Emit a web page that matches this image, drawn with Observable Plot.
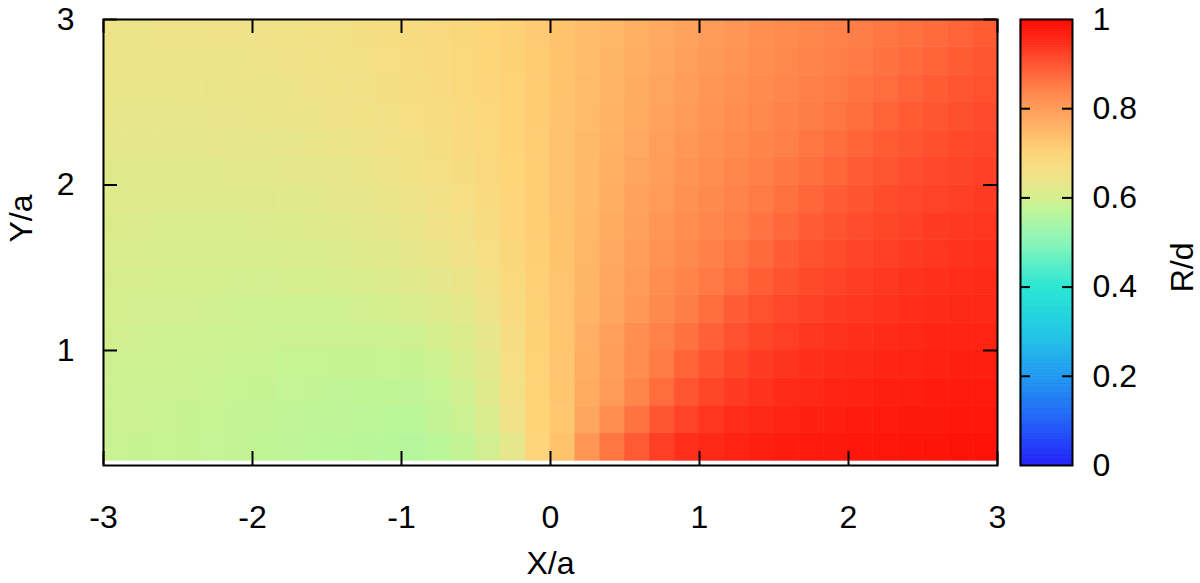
<!DOCTYPE html>
<html><head><meta charset="utf-8">
<script src="https://cdn.jsdelivr.net/npm/d3@7"></script>
<script src="https://cdn.jsdelivr.net/npm/@observablehq/plot@0.6"></script>
<style>
html,body{margin:0;padding:0;background:#fff;}
#wrap{position:relative;width:1200px;height:583px;overflow:hidden;}
#main,#bar{position:absolute;top:0;}
#main{left:0}
#bar{left:1000px}
svg{overflow:visible}
</style></head><body><div id="wrap"><div id="main"></div><div id="bar"></div></div>
<script>
// cell centres (cells are 1/6 wide and 1/6 tall)
const xCenters = [-2.917,-2.75,-2.583,-2.417,-2.25,-2.083,-1.917,-1.75,-1.583,-1.417,-1.25,-1.083,-0.917,-0.75,-0.583,-0.417,-0.25,-0.083,
                  0.083,0.25,0.417,0.583,0.75,0.917,1.083,1.25,1.417,1.583,1.75,1.917,2.083,2.25,2.417,2.583,2.75,2.917];
const yCenters = [0.417,0.583,0.75,0.917,1.083,1.25,1.417,1.583,1.75,1.917,2.083,2.25,2.417,2.583,2.75,2.917];

// R/d values, one array per row (bottom to top), left to right
const row00 = [0.585,0.584,0.583,0.581,0.579,0.577,0.575,0.573,0.571,0.569,0.566,0.563,0.561,0.568,0.578,0.598,0.628,0.695, 0.730,0.810,0.857,0.892,0.925,0.944,0.955,0.961,0.966,0.970,0.973,0.976,0.978,0.980,0.982,0.983,0.985,0.986];
const row01 = [0.588,0.587,0.586,0.584,0.582,0.580,0.578,0.576,0.574,0.572,0.570,0.568,0.568,0.577,0.589,0.610,0.650,0.700, 0.724,0.782,0.820,0.860,0.898,0.920,0.937,0.948,0.955,0.961,0.965,0.968,0.971,0.973,0.975,0.976,0.978,0.979];
const row02 = [0.590,0.589,0.588,0.587,0.585,0.583,0.581,0.579,0.577,0.576,0.575,0.575,0.576,0.582,0.595,0.617,0.660,0.702, 0.725,0.772,0.802,0.835,0.870,0.897,0.916,0.930,0.941,0.949,0.955,0.959,0.963,0.966,0.968,0.970,0.972,0.973];
const row03 = [0.593,0.592,0.591,0.590,0.588,0.586,0.585,0.583,0.582,0.581,0.581,0.582,0.584,0.590,0.603,0.625,0.665,0.703, 0.726,0.768,0.798,0.824,0.850,0.880,0.901,0.916,0.928,0.938,0.945,0.950,0.954,0.957,0.960,0.963,0.966,0.967];
const row04 = [0.596,0.595,0.594,0.593,0.591,0.590,0.589,0.588,0.587,0.587,0.588,0.590,0.594,0.601,0.613,0.634,0.670,0.705, 0.727,0.764,0.795,0.820,0.840,0.862,0.885,0.903,0.916,0.926,0.934,0.940,0.945,0.949,0.953,0.957,0.959,0.961];
const row05 = [0.600,0.599,0.598,0.597,0.595,0.594,0.593,0.593,0.593,0.594,0.597,0.601,0.607,0.615,0.627,0.646,0.677,0.706, 0.728,0.757,0.784,0.807,0.828,0.847,0.867,0.889,0.904,0.914,0.923,0.930,0.936,0.941,0.946,0.949,0.952,0.955];
const row06 = [0.604,0.603,0.602,0.601,0.600,0.599,0.599,0.600,0.601,0.603,0.607,0.612,0.619,0.628,0.640,0.657,0.683,0.707, 0.729,0.755,0.781,0.802,0.820,0.836,0.852,0.869,0.888,0.902,0.912,0.920,0.927,0.933,0.939,0.943,0.947,0.950];
const row07 = [0.608,0.607,0.606,0.605,0.605,0.605,0.606,0.607,0.609,0.612,0.617,0.623,0.631,0.640,0.651,0.666,0.688,0.709, 0.730,0.753,0.776,0.798,0.814,0.828,0.842,0.857,0.873,0.889,0.901,0.910,0.918,0.925,0.930,0.935,0.940,0.944];
const row08 = [0.613,0.612,0.611,0.611,0.611,0.611,0.612,0.614,0.617,0.620,0.625,0.631,0.639,0.648,0.659,0.672,0.692,0.710, 0.731,0.751,0.772,0.792,0.809,0.822,0.834,0.846,0.860,0.875,0.889,0.900,0.909,0.916,0.922,0.928,0.932,0.937];
const row09 = [0.618,0.617,0.617,0.617,0.617,0.618,0.619,0.621,0.624,0.628,0.633,0.639,0.647,0.656,0.666,0.678,0.695,0.711, 0.732,0.749,0.768,0.787,0.803,0.816,0.828,0.839,0.851,0.863,0.877,0.889,0.900,0.908,0.915,0.920,0.925,0.930];
const row10 = [0.624,0.623,0.623,0.623,0.624,0.625,0.626,0.628,0.631,0.635,0.640,0.646,0.654,0.662,0.671,0.682,0.697,0.712, 0.732,0.748,0.765,0.782,0.798,0.811,0.823,0.833,0.842,0.854,0.865,0.878,0.889,0.899,0.907,0.913,0.918,0.924];
const row11 = [0.629,0.629,0.629,0.629,0.630,0.631,0.633,0.635,0.638,0.642,0.647,0.653,0.660,0.668,0.676,0.686,0.699,0.713, 0.732,0.746,0.762,0.778,0.794,0.807,0.817,0.827,0.836,0.845,0.857,0.867,0.879,0.890,0.898,0.906,0.912,0.917];
const row12 = [0.634,0.634,0.634,0.635,0.636,0.637,0.639,0.641,0.644,0.648,0.653,0.659,0.666,0.673,0.680,0.689,0.701,0.714, 0.732,0.745,0.759,0.774,0.789,0.802,0.813,0.822,0.831,0.840,0.849,0.858,0.869,0.880,0.890,0.898,0.905,0.911];
const row13 = [0.638,0.638,0.638,0.639,0.640,0.641,0.643,0.645,0.648,0.652,0.657,0.663,0.669,0.676,0.683,0.692,0.703,0.715, 0.731,0.744,0.757,0.771,0.785,0.798,0.809,0.817,0.826,0.834,0.842,0.851,0.860,0.870,0.880,0.890,0.897,0.904];
const row14 = [0.642,0.642,0.642,0.643,0.644,0.645,0.647,0.649,0.652,0.656,0.660,0.666,0.672,0.679,0.686,0.694,0.705,0.716, 0.731,0.743,0.755,0.768,0.781,0.794,0.805,0.813,0.822,0.830,0.837,0.845,0.853,0.862,0.871,0.880,0.890,0.897];
const row15 = [0.645,0.645,0.646,0.647,0.648,0.649,0.651,0.653,0.656,0.659,0.663,0.668,0.674,0.681,0.688,0.696,0.706,0.717, 0.730,0.742,0.753,0.765,0.778,0.790,0.801,0.810,0.818,0.826,0.833,0.840,0.847,0.855,0.863,0.871,0.880,0.890];

const xTicks = [-3,-2,-1,0,1,2,3];
const xTickLabels = ["-3","-2","-1","0","1","2","3"];
const yTicks = [1,2,3];
const yTickLabels = ["1","2","3"];
const barTicks = [0,0.2,0.4,0.6,0.8,1];
const barTickLabels = ["0","0.2","0.4","0.6","0.8","1"];

// palette (value -> colour)
const paletteStops  = [0, 0.1, 0.2, 0.3, 0.4, 0.5, 0.57, 0.6, 0.65, 0.7, 0.75, 0.8, 0.85, 0.9, 0.95, 1];
const paletteColors = ["#2020f8","#2060f8","#2098f0","#20c8e4","#28e6d4","#88f6b8","#bcf698","#d4ee8e","#f0e288","#ffd478","#ffb868","#ff9c58","#ff7c46","#ff5430","#ff2a18","#ff0800"];

const rows = [row00,row01,row02,row03,row04,row05,row06,row07,row08,row09,row10,row11,row12,row13,row14,row15];
const cells = [];
rows.forEach((row, j) => row.forEach((v, i) => cells.push({x: xCenters[i], y: yCenters[j], v})));
const half = 1 / 12;

const color = {type: "linear", domain: paletteStops, range: paletteColors, interpolate: "rgb"};
const FONT = "'Liberation Sans', Arial, Helvetica, sans-serif";
const FS = 32;
const W = 1000, H = 583, mL = 103, mR = 3, mT = 19, mB = 118;
const fw = W - mL - mR, fh = H - mT - mB;
const TL = 14;

const main = Plot.plot({
  width: W, height: H, marginLeft: mL, marginRight: mR, marginTop: mT, marginBottom: mB,
  style: {fontFamily: FONT, fontSize: FS + "px", color: "#000", background: "transparent"},
  x: {domain: [-3, 3]},
  y: {domain: [0.305, 3]},
  color,
  marks: [
    Plot.rect(cells, {x1: d => d.x - half, x2: d => d.x + half, y1: d => d.y - half, y2: d => d.y + half,
      fill: "v", stroke: "v", strokeWidth: 0.6}),
    Plot.tickX(xTicks, {x: d => d, insetTop: fh - TL, stroke: "#000", strokeWidth: 2}),
    Plot.tickX(xTicks, {x: d => d, insetBottom: fh - TL, stroke: "#000", strokeWidth: 2}),
    Plot.tickY(yTicks, {y: d => d, insetRight: fw - TL, stroke: "#000", strokeWidth: 2}),
    Plot.tickY(yTicks, {y: d => d, insetLeft: fw - TL, stroke: "#000", strokeWidth: 2}),
    Plot.axisX(xTicks, {anchor: "bottom", tickSize: 0, tickPadding: 40, label: null, fontSize: FS,
      tickFormat: d => xTickLabels[xTicks.indexOf(d)]}),
    Plot.axisY(yTicks, {anchor: "left", tickSize: 0, tickPadding: 29, label: null, fontSize: FS,
      tickFormat: d => yTickLabels[yTicks.indexOf(d)]}),
    Plot.text(["X/a"], {frameAnchor: "bottom", dy: 108, text: d => d, fontSize: FS, fill: "#000"}),
    Plot.text(["Y/a"], {frameAnchor: "left", dx: -82, rotate: -90, text: d => d, fontSize: FS, fill: "#000"}),
    Plot.frame({stroke: "#000", strokeWidth: 2})
  ]
});
document.getElementById("main").appendChild(main);

// colour bar
const barStep = 0.004;
const barSteps = d3.range(0, 1, barStep);
const bw = 52, BL = 10;
const bar = Plot.plot({
  width: 200, height: H, marginLeft: 20, marginRight: 200 - 20 - bw, marginTop: mT, marginBottom: mB,
  style: {fontFamily: FONT, fontSize: FS + "px", color: "#000", background: "transparent"},
  x: {domain: [0, 1], axis: null},
  y: {domain: [0, 1]},
  color,
  marks: [
    Plot.rect(barSteps, {x1: () => 0, x2: () => 1, y1: d => d, y2: d => Math.min(1, d + barStep),
      fill: d => d + barStep / 2, stroke: d => d + barStep / 2, strokeWidth: 0.6}),
    Plot.tickY(barTicks.slice(1, -1), {y: d => d, insetRight: bw - BL, stroke: "#000", strokeWidth: 2}),
    Plot.tickY(barTicks.slice(1, -1), {y: d => d, insetLeft: bw - BL, stroke: "#000", strokeWidth: 2}),
    Plot.axisY(barTicks, {anchor: "right", tickSize: 0, tickPadding: 20, label: null, fontSize: FS,
      tickFormat: d => barTickLabels[barTicks.indexOf(d)]}),
    Plot.text(["R/d"], {frameAnchor: "right", dx: 110, rotate: -90, text: d => d, fontSize: FS, fill: "#000"}),
    Plot.frame({stroke: "#000", strokeWidth: 2})
  ]
});
document.getElementById("bar").appendChild(bar);
</script>
</body></html>
